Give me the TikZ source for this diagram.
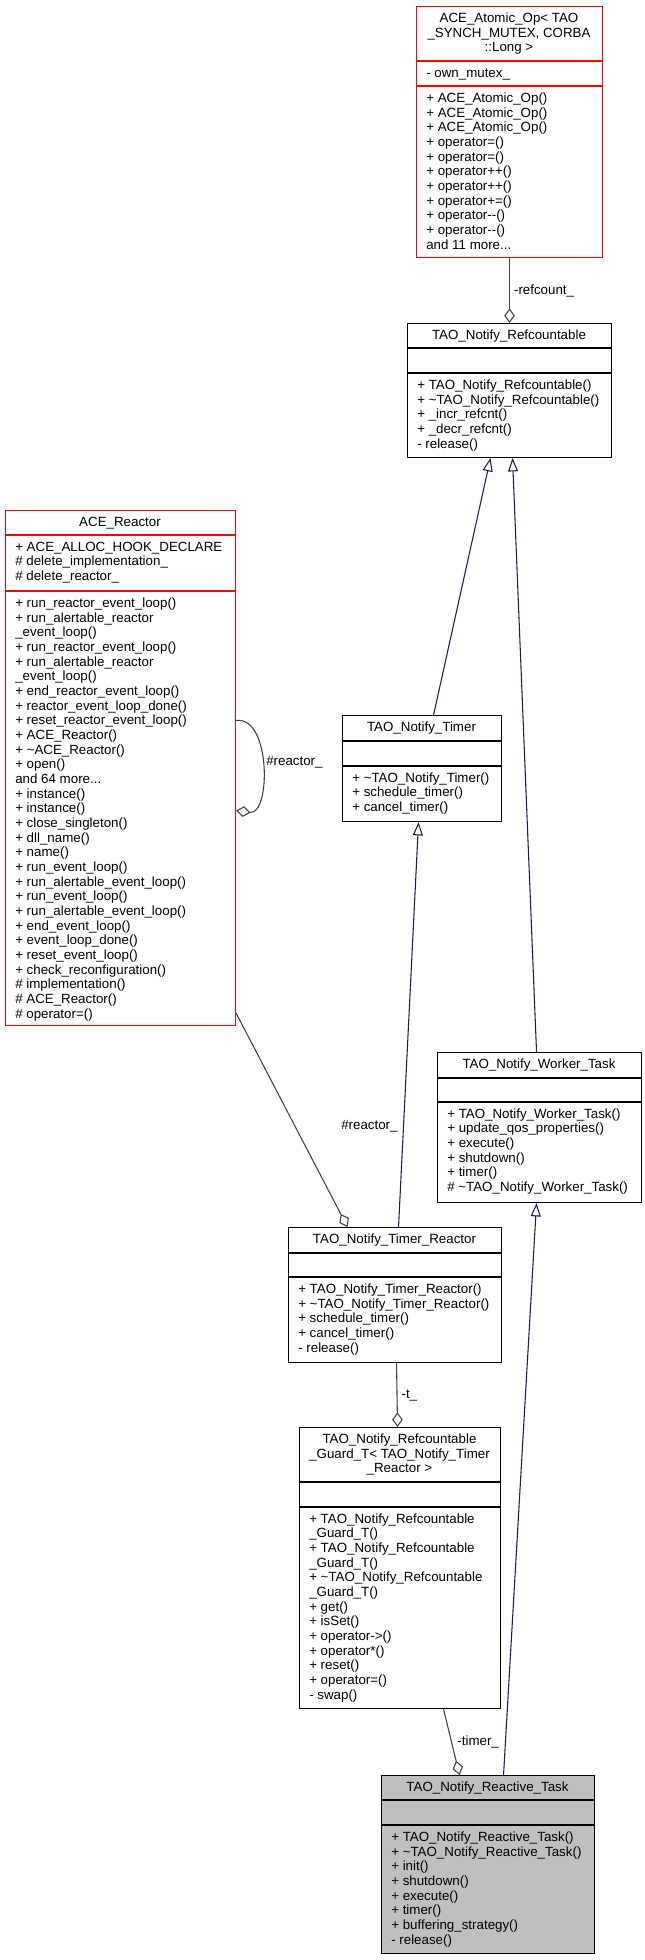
\documentclass[tikz,border=0pt]{standalone}
\usepackage{fontspec}
\setmainfont{Liberation Sans}
\usetikzlibrary{arrows.meta}
\definecolor{edgegray}{HTML}{404040}
\definecolor{isablue}{HTML}{191970}
\definecolor{curfill}{HTML}{BFBFBF}
\begin{document}
\begin{tikzpicture}[x=0.75pt,y=-0.75pt,
  box/.style={draw=black,line width=0.8pt,inner sep=0pt,anchor=north west},
  ttl/.style={align=center,anchor=base,inner sep=0pt,font=\fontsize{10pt}{11pt}\selectfont},
  mem/.style={align=left,anchor=base west,inner sep=0pt,font=\fontsize{10pt}{11pt}\selectfont},
  lbl/.style={inner sep=0pt,font=\fontsize{10pt}{11pt}\selectfont},
  use/.style={draw=edgegray,line width=0.8pt,-{Diamond[open,length=11pt,width=8pt]}},
  isa/.style={draw=isablue,line width=0.8pt,-{Triangle[open,length=10pt,width=7.5pt]}}]
  \useasboundingbox (0,0) rectangle (645,1960);
  % text blocks sit on the baseline of their last line

  % ACE_Atomic_Op
  \node[box,draw=red,minimum width=139.5pt,minimum height=188.25pt] (atomic) at (416,6) {};
  \draw[red,line width=0.8pt] (416,61) -- (602,61) (416,86) -- (602,86);
  \node[ttl] (atomicT) at (509,51.8) {ACE\_Atomic\_Op< TAO\\\_SYNCH\_MUTEX, CORBA\\::Long >};
  \node[mem] (atomicA) at (426,77.3) {- own\_mutex\_};
  \node[mem] (atomicM) at (426,249) {+ ACE\_Atomic\_Op()\\+ ACE\_Atomic\_Op()\\+ ACE\_Atomic\_Op()\\+ operator=()\\+ operator=()\\+ operator++()\\+ operator++()\\+ operator+=()\\+ operator-{}-()\\+ operator-{}-()\\and 11 more...};

  % TAO_Notify_Refcountable
  \node[box,minimum width=153pt,minimum height=100.5pt] (refc) at (407,323) {};
  \draw[line width=0.8pt] (407,348) -- (611,348) (407,373) -- (611,373);
  \node[ttl] (refcT) at (509,339.5) {TAO\_Notify\_Refcountable};
  \node[mem] (refcM) at (417,448) {+ TAO\_Notify\_Refcountable()\\+ \textasciitilde TAO\_Notify\_Refcountable()\\+ \_incr\_refcnt()\\+ \_decr\_refcnt()\\- release()};

  % ACE_Reactor
  \node[box,draw=red,minimum width=172.5pt,minimum height=386.25pt] (reactor) at (5,510) {};
  \draw[red,line width=0.8pt] (5,535) -- (235,535) (5,591) -- (235,591);
  \node[ttl] (reactorT) at (120,526.5) {ACE\_Reactor};
  \node[mem] (reactorA) at (15,580.6) {+ ACE\_ALLOC\_HOOK\_DECLARE\\\# delete\_implementation\_\\\# delete\_reactor\_};
  \node[mem] (reactorM) at (15,1018) {+ run\_reactor\_event\_loop()\\+ run\_alertable\_reactor\\\_event\_loop()\\+ run\_reactor\_event\_loop()\\+ run\_alertable\_reactor\\\_event\_loop()\\+ end\_reactor\_event\_loop()\\+ reactor\_event\_loop\_done()\\+ reset\_reactor\_event\_loop()\\+ ACE\_Reactor()\\+ \textasciitilde ACE\_Reactor()\\+ open()\\and 64 more...\\+ instance()\\+ instance()\\+ close\_singleton()\\+ dll\_name()\\+ name()\\+ run\_event\_loop()\\+ run\_alertable\_event\_loop()\\+ run\_event\_loop()\\+ run\_alertable\_event\_loop()\\+ end\_event\_loop()\\+ event\_loop\_done()\\+ reset\_event\_loop()\\+ check\_reconfiguration()\\\# implementation()\\\# ACE\_Reactor()\\\# operator=()};

  % TAO_Notify_Timer
  \node[box,minimum width=119.25pt,minimum height=79.5pt] (timer) at (342,715) {};
  \draw[line width=0.8pt] (342,741) -- (501,741) (342,766) -- (501,766);
  \node[ttl] (timerT) at (421.5,731.5) {TAO\_Notify\_Timer};
  \node[mem] (timerM) at (352,811.6) {+ \textasciitilde TAO\_Notify\_Timer()\\+ schedule\_timer()\\+ cancel\_timer()};

  % TAO_Notify_Worker_Task
  \node[box,minimum width=153pt,minimum height=112.5pt] (worker) at (437,1052) {};
  \draw[line width=0.8pt] (437,1078) -- (641,1078) (437,1102) -- (641,1102);
  \node[ttl] (workerT) at (539,1068.5) {TAO\_Notify\_Worker\_Task};
  \node[mem] (workerM) at (447,1191.6) {+ TAO\_Notify\_Worker\_Task()\\+ update\_qos\_properties()\\+ execute()\\+ shutdown()\\+ timer()\\\# \textasciitilde TAO\_Notify\_Worker\_Task()};

  % TAO_Notify_Timer_Reactor
  \node[box,minimum width=159.75pt,minimum height=101.25pt] (treactor) at (288,1227) {};
  \draw[line width=0.8pt] (288,1253) -- (501,1253) (288,1277) -- (501,1277);
  \node[ttl] (treactorT) at (394.5,1243.5) {TAO\_Notify\_Timer\_Reactor};
  \node[mem] (treactorM) at (298,1352) {+ TAO\_Notify\_Timer\_Reactor()\\+ \textasciitilde TAO\_Notify\_Timer\_Reactor()\\+ schedule\_timer()\\+ cancel\_timer()\\- release()};

  % TAO_Notify_Refcountable_Guard_T
  \node[box,minimum width=150.75pt,minimum height=210.75pt] (guard) at (299,1427) {};
  \draw[line width=0.8pt] (299,1482) -- (500,1482) (299,1507) -- (500,1507);
  \node[ttl] (guardT) at (399.5,1472.8) {TAO\_Notify\_Refcountable\\\_Guard\_T< TAO\_Notify\_Timer\\\_Reactor >};
  \node[mem] (guardM) at (309,1699.3) {+ TAO\_Notify\_Refcountable\\\_Guard\_T()\\+ TAO\_Notify\_Refcountable\\\_Guard\_T()\\+ \textasciitilde TAO\_Notify\_Refcountable\\\_Guard\_T()\\+ get()\\+ isSet()\\+ operator->()\\+ operator*()\\+ reset()\\+ operator=()\\- swap()};

  % TAO_Notify_Reactive_Task
  \node[box,fill=curfill,minimum width=159.75pt,minimum height=133.5pt] (reactive) at (381,1775) {};
  \draw[line width=0.8pt] (381,1800) -- (594,1800) (381,1825) -- (594,1825);
  \node[ttl] (reactiveT) at (487.5,1791.5) {TAO\_Notify\_Reactive\_Task};
  \node[mem] (reactiveM) at (391,1944) {+ TAO\_Notify\_Reactive\_Task()\\+ \textasciitilde TAO\_Notify\_Reactive\_Task()\\+ init()\\+ shutdown()\\+ execute()\\+ timer()\\+ buffering\_strategy()\\- release()};

  \draw[use] (atomic.south) -- node[lbl,anchor=west,xshift=3pt] (refcountLbl) {-refcount\_} (refc.north);
  \draw[isa] ([shift={(11.5,0)}]timer.north) -- ([shift={(-19,0)}]refc.south);
  \draw[isa] ([shift={(-3,0)}]worker.north) -- ([shift={(3,0)}]refc.south);
  \draw[use] ([shift={(0,-47.5)}]reactor.east) .. controls +(35,-5) and +(35,5) .. ([shift={(0,42.5)}]reactor.east);
  \node[lbl,anchor=west] (loopLbl) at (266,762) {\#reactor\_};
  \draw[use] ([shift={(0,-13)}]reactor.south east) -- ([shift={(-47.5,0)}]treactor.north);
  \node[lbl,anchor=west] (reactorLbl) at (341,1126) {\#reactor\_};
  \draw[isa] ([shift={(3.5,0)}]treactor.north) -- ([shift={(-3.5,0)}]timer.south);
  \draw[use] ([shift={(1.5,0)}]treactor.south) -- node[lbl,anchor=west,xshift=3pt] (tLbl) {-t\_} ([shift={(-2.5,0)}]guard.north);
  \draw[use] ([shift={(43.5,0)}]guard.south) -- node[lbl,anchor=west,xshift=4pt] (timerLbl) {-timer\_} ([shift={(-28.5,0)}]reactive.north);
  \draw[isa] ([shift={(15.5,0)}]reactive.north) -- ([shift={(-3,0)}]worker.south);
\end{tikzpicture}
\end{document}
